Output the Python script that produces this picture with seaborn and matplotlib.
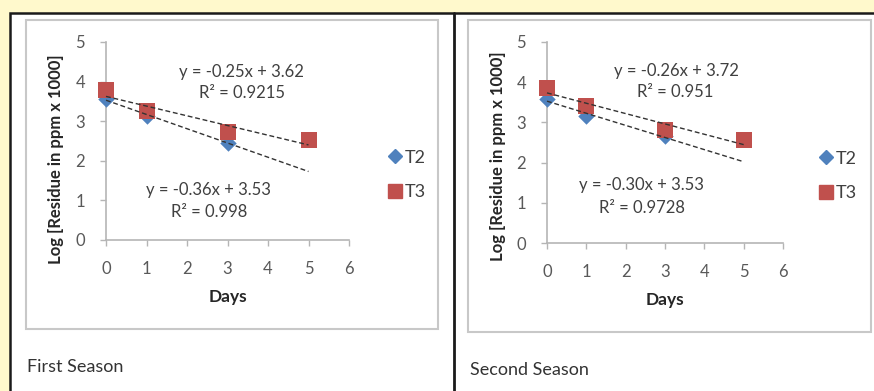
import numpy as np
import pandas as pd
import matplotlib
matplotlib.use("Agg")
import matplotlib.pyplot as plt
from matplotlib.patches import Rectangle
from matplotlib.lines import Line2D
import seaborn as sns

# ---------------- data ----------------
days_t2 = [0, 1, 3]
days_t3 = [0, 1, 3, 5]
s1_t2 = [3.55, 3.14, 2.46]
s1_t3 = [3.78, 3.27, 2.73, 2.52]
s2_t2 = [3.58, 3.15, 2.65]
s2_t3 = [3.86, 3.40, 2.80, 2.56]
series_names = ["T2", "T3"]
season_titles = ["First Season", "Second Season"]
s1_eq = ["y = -0.36x + 3.53", "R\u00b2 = 0.998", "y = -0.25x + 3.62", "R\u00b2 = 0.9215"]
s2_eq = ["y = -0.30x + 3.53", "R\u00b2 = 0.9728", "y = -0.26x + 3.72", "R\u00b2 = 0.951"]
x_ticks = [0, 1, 2, 3, 4, 5, 6]
y_ticks = [0, 1, 2, 3, 4, 5]
x_label = "Days"
y_label = "Log [Residue in ppm x 1000]"

# --------------- style ----------------
sns.set_theme(style="white")
plt.rcParams["font.family"] = ["Lato", "DejaVu Sans"]

W, H = 874, 391
fig = plt.figure(figsize=(W / 100, H / 100), dpi=100)
fig.patch.set_facecolor("#FFF9CC")

def fx(px):
    return px / W

def fy(py):
    return 1 - py / H

# white panels with black frame
fig.patches.append(Rectangle((fx(9.5), fy(420)), fx(880 - 9.5), fy(12.5) - fy(420),
                             transform=fig.transFigure, facecolor="white",
                             edgecolor="#1a1a1a", linewidth=1.8, zorder=0))
fig.add_artist(Line2D([fx(454), fx(454)], [0, fy(12.5)], transform=fig.transFigure,
                      color="#1a1a1a", linewidth=2.0, zorder=1))
# gray chart boxes
for (x0, y0, x1, y1) in [(26, 20, 438, 329), (468, 20, 871, 332)]:
    fig.patches.append(Rectangle((fx(x0), fy(y1)), fx(x1 - x0), fy(y0) - fy(y1),
                                 transform=fig.transFigure, facecolor="white",
                                 edgecolor="#C8C8C8", linewidth=1.5, zorder=0.5))

blue = "#4F81BD"
red = "#C0504D"

axes_px = [(106, 42, 349, 240), (547, 42, 783, 243)]
seasons = [(s1_t2, s1_t3, s1_eq), (s2_t2, s2_t3, s2_eq)]
eq_pos = [
    [(2.54, 1.26), (2.54, 0.70), (3.34, 4.25), (3.35, 3.70)],
    [(2.39, 1.44), (2.42, 0.87), (3.28, 4.29), (3.26, 3.75)],
]
ylabel_coords = [(-0.172, 0.41), (-0.172, 0.43)]
legend_px = [(377, 175), (808, 176)]
caption_px = [(27, 367), (470, 370)]

for i, ((x0, y0, x1, y1), (t2, t3, eqs)) in enumerate(zip(axes_px, seasons)):
    ax = fig.add_axes([fx(x0), fy(y1), fx(x1 - x0), fy(y0) - fy(y1)])
    ax.set_zorder(3)
    ax.set_facecolor("none")
    df = pd.DataFrame({
        "Days": list(days_t2) + list(days_t3),
        "Log": list(t2) + list(t3),
        "Treatment": ["T2"] * len(t2) + ["T3"] * len(t3),
    })
    sns.scatterplot(data=df[df.Treatment == "T2"], x="Days", y="Log", color=blue,
                    marker="D", s=70, linewidth=0, ax=ax, zorder=3, legend=False)
    sns.scatterplot(data=df[df.Treatment == "T3"], x="Days", y="Log", color=red,
                    marker="s", s=130, linewidth=0, ax=ax, zorder=4, legend=False)
    for coll in ax.collections:
        coll.set_clip_on(False)
    # linear trend lines
    xs = np.array([0, 5])
    for xd, yd in [(days_t2, t2), (days_t3, t3)]:
        m, b = np.polyfit(xd, yd, 1)
        ax.plot(xs, m * xs + b, color="#333333", linewidth=1.0,
                linestyle=(0, (3.5, 2)), zorder=5, clip_on=False)
    for txt, (tx, ty) in zip(eqs, eq_pos[i]):
        ax.text(tx, ty, txt, ha="center", va="center", fontsize=12, color="#404040")

    ax.set_xlim(0, 6)
    ax.set_ylim(0, 5)
    ax.set_xticks(x_ticks)
    ax.set_yticks(y_ticks)
    for sp in ["top", "right"]:
        ax.spines[sp].set_visible(False)
    for sp in ["left", "bottom"]:
        ax.spines[sp].set_color("#B5B5B5")
        ax.spines[sp].set_linewidth(1.2)
    ax.tick_params(axis="both", which="major", direction="out", length=4, width=1.0,
                   color="#B5B5B5", labelsize=12, labelcolor="#595959",
                   bottom=True, left=True)
    ax.tick_params(axis="y", pad=11)
    ax.tick_params(axis="x", pad=11)
    ax.set_xlabel(x_label, fontsize=12.5, fontweight="bold", color="#262626", labelpad=9)
    ax.set_ylabel(y_label, fontsize=12, fontweight="bold", color="#262626")
    ax.yaxis.set_label_coords(*ylabel_coords[i])

    handles = [
        Line2D([], [], marker="D", color=blue, linestyle="none", markersize=7),
        Line2D([], [], marker="s", color=red, linestyle="none", markersize=10),
    ]
    lx, ly = legend_px[i]
    ax.legend(handles, series_names, loc="center left",
              bbox_to_anchor=(fx(lx), fy(ly)), bbox_transform=fig.transFigure,
              frameon=False, fontsize=13, handletextpad=0.05, labelspacing=1.05,
              handlelength=1.0, borderpad=0, labelcolor="#404040")

    cx, cy = caption_px[i]
    fig.text(fx(cx), fy(cy), season_titles[i], ha="left", va="center",
             fontsize=13, color="#333333")

fig.savefig("out.png", dpi=100, facecolor=fig.get_facecolor())
